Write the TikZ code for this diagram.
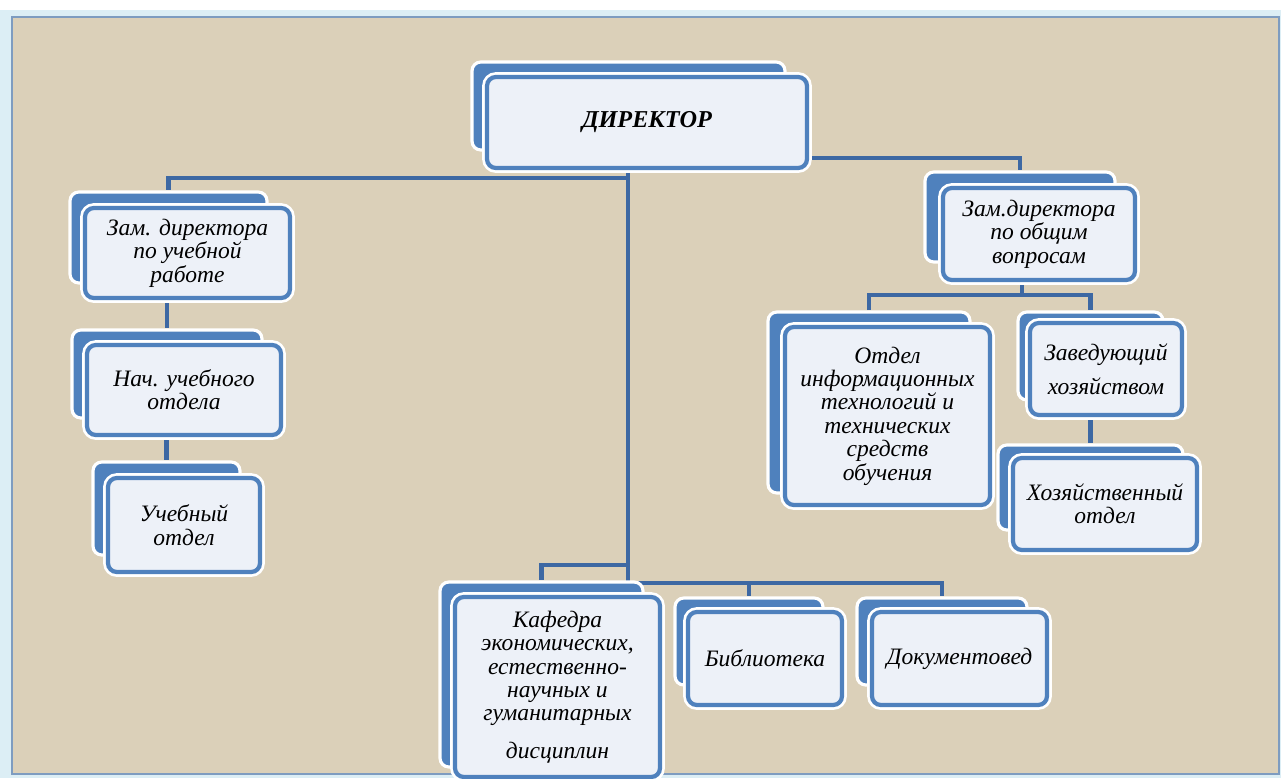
\documentclass[tikz,border=0pt]{standalone}
\usepackage{fontspec}
\setmainfont{Liberation Serif}
\usetikzlibrary{backgrounds}

\definecolor{boxblue}{HTML}{4F81BD}
\definecolor{linkblue}{HTML}{3D68A3}
\definecolor{boxfill}{HTML}{EDF1F8}
\definecolor{linen}{HTML}{DBD0B9}
\definecolor{framecyan}{HTML}{DCEEF5}
\definecolor{frameline}{HTML}{7E9CC0}

\begin{document}
\begin{tikzpicture}[x=0.02cm,y=-0.02cm,
  backbox/.style={rectangle,rounded corners=5pt,fill=boxblue,draw=white,line width=1.8pt},
  frontbox/.style={rectangle,rounded corners=5pt,fill=boxfill,draw=boxblue,line width=2.4pt,
    preaction={draw=white,line width=5.5pt},align=center,inner sep=2pt,
    font=\fontsize{13.4}{13.3}\selectfont\itshape},
  link/.style={draw=linkblue,line width=2.6pt}]
\useasboundingbox (0,0) rectangle (1281,778);

% director
\node[backbox,minimum width=6.26cm,minimum height=1.76cm] (dirb) at (628.5,106) {};
\node[frontbox,minimum width=6.40cm,minimum height=1.82cm] (dir) at (647,122.5)
  {\fontsize{13.8}{14}\selectfont\bfseries ДИРЕКТОР};

% left column
\node[backbox,minimum width=3.94cm,minimum height=1.82cm] (zub) at (168.5,237.5) {};
\node[frontbox,minimum width=4.10cm,minimum height=1.80cm] (zu) at (187.5,253)
  {Зам. директора\\по учебной\\работе};
\node[backbox,minimum width=3.80cm,minimum height=1.76cm] (nub) at (167,374) {};
\node[frontbox,minimum width=3.88cm,minimum height=1.80cm] (nu) at (184,390)
  {Нач. учебного\\отдела};
\node[backbox,minimum width=2.94cm,minimum height=1.86cm] (uob) at (166.5,508.5) {};
\node[frontbox,minimum width=3.04cm,minimum height=1.88cm] (uo) at (184,525)
  {Учебный\\отдел};

% right column
\node[backbox,minimum width=3.80cm,minimum height=1.80cm] (zob) at (1020,217) {};
\node[frontbox,minimum width=3.84cm,minimum height=1.84cm] (zo) at (1039,234)
  {Зам.директора\\по общим\\вопросам};
\node[backbox,minimum width=4.04cm,minimum height=3.62cm] (itb) at (869,402.5) {};
\node[frontbox,minimum width=4.10cm,minimum height=3.56cm] (it) at (887.5,416)
  {Отдел\\информационных\\технологий и\\технических\\средств\\обучения};
\node[backbox,minimum width=2.90cm,minimum height=1.76cm] (zhb) at (1090.5,356) {};
\node[frontbox,minimum width=3.04cm,minimum height=1.84cm] (zh) at (1106,369)
  {Заведующий\\[6pt]хозяйством};
\node[backbox,minimum width=3.70cm,minimum height=1.70cm] (hob) at (1090.5,487.5) {};
\node[frontbox,minimum width=3.68cm,minimum height=1.84cm] (ho) at (1105,504)
  {Хозяйственный\\отдел};

% bottom row
\node[backbox,minimum width=4.06cm,minimum height=3.70cm] (kafb) at (541.5,674.5) {};
\node[frontbox,minimum width=4.10cm,minimum height=3.60cm] (kaf) at (557.5,687)
  {Кафедра\\экономических,\\естественно-\\научных и\\гуманитарных\\[8pt]дисциплин};
\node[backbox,minimum width=2.96cm,minimum height=1.74cm] (bibb) at (749,641.5) {};
\node[frontbox,minimum width=3.08cm,minimum height=1.86cm] (bib) at (765,658.5)
  {Библиотека};
\node[backbox,minimum width=3.40cm,minimum height=1.74cm] (docb) at (942,641.5) {};
\node[frontbox,minimum width=3.50cm,minimum height=1.86cm] (doc) at (959.5,658.5)
  {Документовед};

\coordinate (ja) at (628,178);
\coordinate (jb) at (628,565);
\coordinate (jc) at (628,583);
\coordinate (jr) at (1022,158);
\coordinate (jo) at (1022,295);

\begin{pgfonlayer}{background}
  \fill[framecyan] (0,10) rectangle (1281,778);
  \fill[linen,draw=frameline,line width=0.6pt] (12,17) rectangle (1279,774);
  % connectors
  \draw[link] (dir.south -| jc) -- (jc);
  \draw[link] (ja) -| (zub.north);
  \draw[link] (zu.south -| nub.north) -- (nub.north);
  \draw[link] (nu.south -| uob.north) -- (uob.north);
  \draw[link] (jr -| dir.east) -| (zob.north);
  \draw[link] (zo.south -| jo) -- (jo);
  \draw[link] (itb.north) |- (zhb.north |- jo) -- (zhb.north);
  \draw[link] (zh.south -| hob.north) -- (hob.north);
  \draw[link] (jb) -| (kafb.north);
  \draw[link] (jc) -| (docb.north);
  \draw[link] (bibb.north |- jc) -- (bibb.north);
\end{pgfonlayer}
\end{tikzpicture}
\end{document}
